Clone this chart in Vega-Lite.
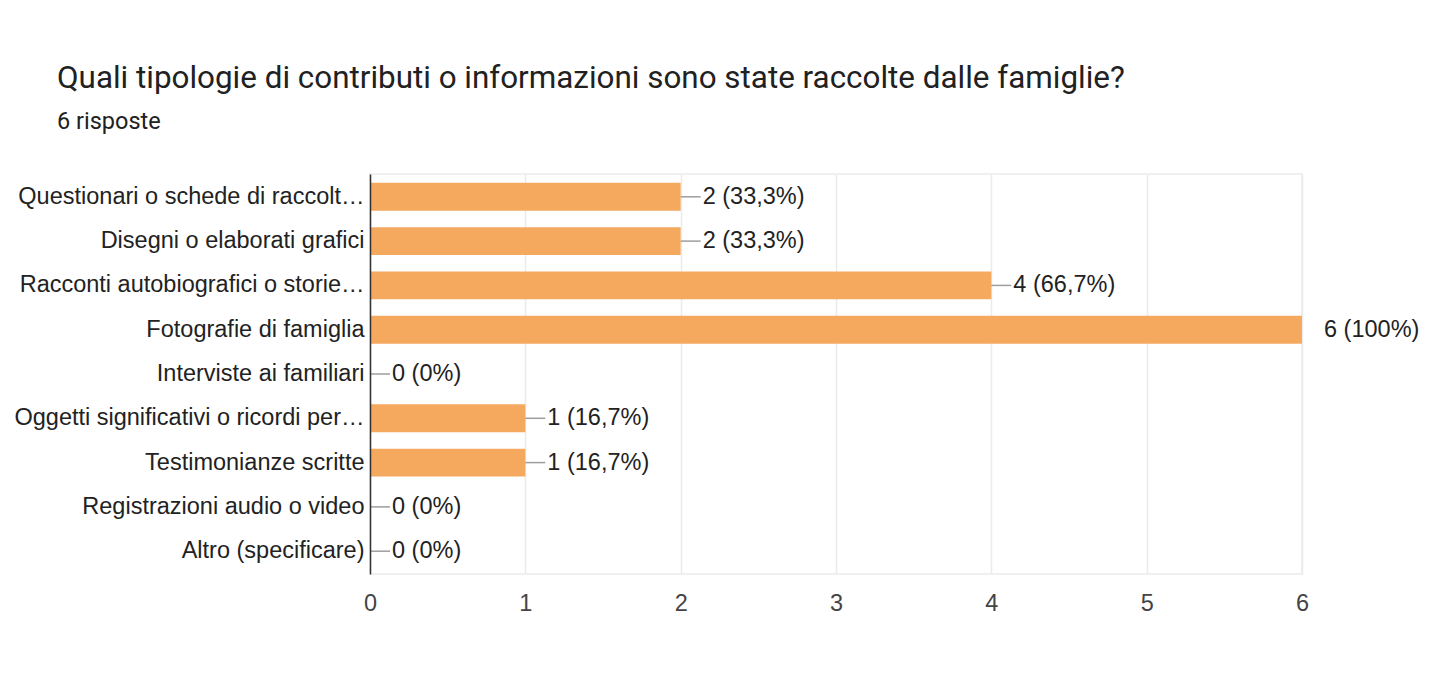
{
  "$schema": "https://vega.github.io/schema/vega-lite/v6.json",
  "autosize": {"type": "none"},
  "width": 932,
  "height": 400,
  "padding": {"left": 370, "top": 174, "right": 137, "bottom": 114},
  "background": "white",
  "title": {
    "text": "Quali tipologie di contributi o informazioni sono state raccolte dalle famiglie?",
    "subtitle": "6 risposte",
    "anchor": "start",
    "frame": "group",
    "dx": -313,
    "offset": 41,
    "font": "Roboto",
    "fontSize": 31.4,
    "fontWeight": "normal",
    "color": "#212121",
    "subtitleFont": "Roboto",
    "subtitleFontSize": 23.5,
    "subtitleColor": "#212121",
    "subtitlePadding": 15
  },
  "data": {
    "values": [
      {"categoria": "Questionari o schede di raccolt…", "conteggio": 2, "etichetta": "2 (33,3%)"},
      {"categoria": "Disegni o elaborati grafici", "conteggio": 2, "etichetta": "2 (33,3%)"},
      {"categoria": "Racconti autobiografici o storie…", "conteggio": 4, "etichetta": "4 (66,7%)"},
      {"categoria": "Fotografie di famiglia", "conteggio": 6, "etichetta": "6 (100%)"},
      {"categoria": "Interviste ai familiari", "conteggio": 0, "etichetta": "0 (0%)"},
      {"categoria": "Oggetti significativi o ricordi per…", "conteggio": 1, "etichetta": "1 (16,7%)"},
      {"categoria": "Testimonianze scritte", "conteggio": 1, "etichetta": "1 (16,7%)"},
      {"categoria": "Registrazioni audio o video", "conteggio": 0, "etichetta": "0 (0%)"},
      {"categoria": "Altro (specificare)", "conteggio": 0, "etichetta": "0 (0%)"}
    ]
  },
  "encoding": {
    "y": {
      "field": "categoria",
      "type": "nominal",
      "sort": null,
      "scale": {"paddingInner": 0.37, "paddingOuter": 0.2},
      "axis": {
        "title": null,
        "ticks": false,
        "grid": false,
        "domainColor": "#333333",
        "domainWidth": 1.5,
        "zindex": 2,
        "labelFont": "Liberation Sans",
        "labelFontSize": 23.5,
        "labelColor": "#222222",
        "labelPadding": 6,
        "labelLimit": 0
      }
    }
  },
  "layer": [
    {
      "mark": {"type": "bar", "color": "#f4a95f"},
      "encoding": {
        "x": {
          "field": "conteggio",
          "type": "quantitative",
          "scale": {"domain": [0, 6], "nice": false},
          "axis": {
            "title": null,
            "domain": false,
            "ticks": false,
            "grid": true,
            "gridColor": "#ebebeb",
            "gridWidth": 1.5,
            "values": [0, 0.5, 1, 1.5, 2, 2.5, 3, 3.5, 4, 4.5, 5, 5.5, 6],
            "format": "d",
            "labelExpr": "datum.value % 1 === 0 ? datum.label : ''",
            "labelFlush": false,
            "labelFont": "Liberation Sans",
            "labelFontSize": 23.5,
            "labelColor": "#444444",
            "labelPadding": 17
          }
        }
      }
    },
    {
      "transform": [{"filter": "datum.conteggio < 6"}],
      "mark": {"type": "rule", "color": "#9e9e9e", "strokeWidth": 1.5, "x2Offset": 20},
      "encoding": {
        "x": {"field": "conteggio", "type": "quantitative"},
        "x2": {"field": "conteggio"}
      }
    },
    {
      "mark": {"type": "text", "align": "left", "baseline": "middle", "dx": 22, "font": "Liberation Sans", "fontSize": 23.5, "color": "#222222"},
      "encoding": {
        "x": {"field": "conteggio", "type": "quantitative"},
        "text": {"field": "etichetta"}
      }
    }
  ],
  "config": {"view": {"stroke": "#ebebeb", "strokeWidth": 1.5}}
}
